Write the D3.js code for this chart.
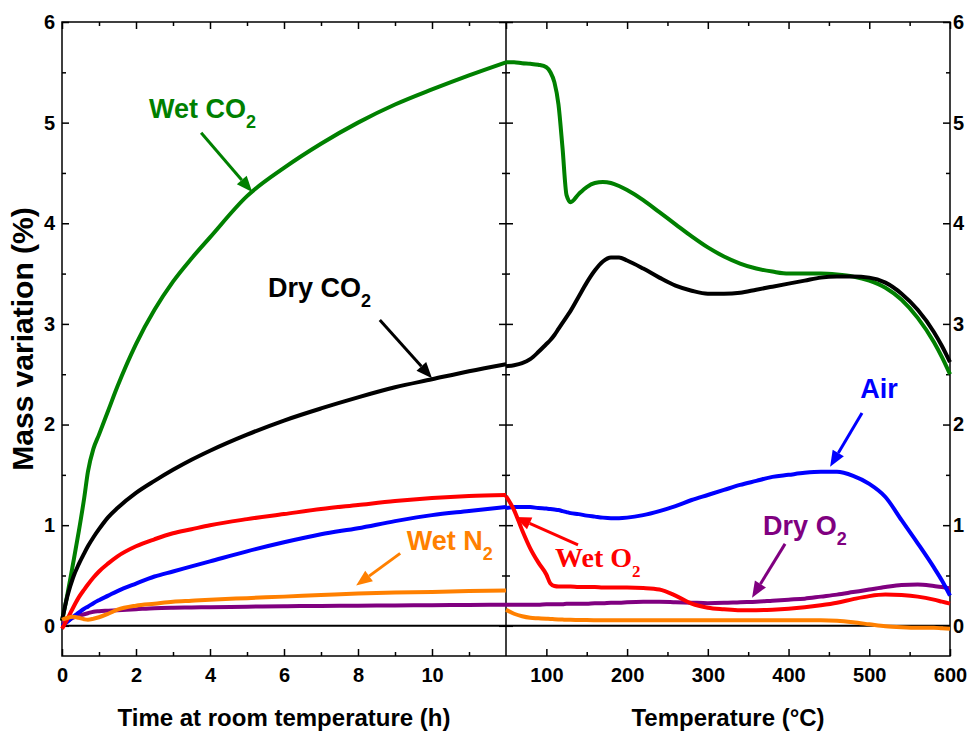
<!DOCTYPE html>
<html>
<head>
<meta charset="utf-8">
<script src="https://cdn.jsdelivr.net/npm/d3@7"></script>
<style>
body { margin: 0; background: #fff; }
text { font-family: "Liberation Sans", Arial, sans-serif; font-weight: bold; }
</style>
</head>
<body>
<svg id="chart" width="970" height="731"></svg>
<script>
// Left panel: isothermal exposure at room temperature (hours).
var timeH = [0, 0.15, 0.3, 0.45, 0.6, 0.7, 0.85, 1, 1.25, 1.5, 2, 2.5, 3, 3.5, 4, 5, 6, 7, 8, 9, 10, 11, 12];
var wetCO2Time = [0.05, 0.32, 0.62, 0.93, 1.27, 1.53, 1.76, 1.9, 2.14, 2.38, 2.8, 3.14, 3.42, 3.65, 3.86, 4.27, 4.55, 4.79, 5.0, 5.18, 5.33, 5.47, 5.6];
var dryCO2Time = [0.05, 0.3, 0.48, 0.61, 0.72, 0.79, 0.88, 0.96, 1.08, 1.17, 1.32, 1.44, 1.55, 1.65, 1.74, 1.9, 2.04, 2.16, 2.27, 2.37, 2.45, 2.53, 2.6];
var wetO2Time = [-0.03, 0.07, 0.18, 0.28, 0.36, 0.41, 0.48, 0.54, 0.62, 0.69, 0.79, 0.86, 0.92, 0.96, 1.0, 1.06, 1.11, 1.16, 1.2, 1.24, 1.27, 1.29, 1.3];
var airTime = [0, 0.04, 0.09, 0.13, 0.17, 0.19, 0.225, 0.255, 0.3, 0.345, 0.42, 0.49, 0.54, 0.59, 0.64, 0.74, 0.83, 0.91, 0.97, 1.04, 1.1, 1.14, 1.18];
var wetN2Time = [0.06, 0.08, 0.09, 0.08, 0.065, 0.06, 0.07, 0.085, 0.12, 0.16, 0.2, 0.22, 0.24, 0.25, 0.26, 0.275, 0.29, 0.305, 0.32, 0.33, 0.335, 0.345, 0.35];
var dryO2Time = [0.03, 0.05, 0.08, 0.1, 0.115, 0.125, 0.14, 0.145, 0.15, 0.155, 0.165, 0.175, 0.18, 0.183, 0.185, 0.19, 0.195, 0.197, 0.2, 0.202, 0.205, 0.207, 0.21];

// Right panel: heating ramp (degrees C).
var tempC = [50, 60, 70, 80, 90, 100, 105, 110, 115, 120, 125, 130, 140, 150, 160, 170, 180, 190, 200, 220,
             240, 260, 280, 300, 320, 340, 360, 380, 400, 420, 440, 460, 480, 500, 520, 540, 560, 580, 590, 600];
var wetCO2Temp = [5.6, 5.6, 5.59, 5.585, 5.575, 5.55, 5.5, 5.4, 5.18, 4.75, 4.28, 4.21, 4.29, 4.36, 4.4, 4.41, 4.4, 4.37, 4.33, 4.23,
                  4.11, 3.99, 3.87, 3.76, 3.67, 3.6, 3.55, 3.52, 3.5, 3.5, 3.5, 3.49, 3.47, 3.43, 3.36, 3.24, 3.06, 2.82, 2.67, 2.5];
var dryCO2Temp = [2.58, 2.59, 2.61, 2.65, 2.72, 2.8, 2.84, 2.89, 2.95, 3.01, 3.07, 3.13, 3.27, 3.41, 3.53, 3.62, 3.66, 3.66, 3.63, 3.55,
                  3.46, 3.38, 3.33, 3.3, 3.3, 3.31, 3.34, 3.37, 3.4, 3.43, 3.46, 3.47, 3.47, 3.46, 3.41, 3.3, 3.14, 2.92, 2.78, 2.62];
var airTemp = [1.17, 1.18, 1.18, 1.18, 1.17, 1.165, 1.16, 1.155, 1.15, 1.14, 1.13, 1.12, 1.11, 1.095, 1.085, 1.075, 1.07, 1.07, 1.075, 1.1,
               1.14, 1.19, 1.25, 1.3, 1.35, 1.4, 1.44, 1.48, 1.5, 1.52, 1.53, 1.53, 1.49, 1.41, 1.28, 1.05, 0.82, 0.58, 0.45, 0.3];
var wetO2Temp = [1.29, 1.15, 0.95, 0.77, 0.63, 0.51, 0.42, 0.395, 0.39, 0.39, 0.39, 0.39, 0.385, 0.385, 0.385, 0.38, 0.38, 0.38, 0.38, 0.375,
                 0.36, 0.3, 0.22, 0.18, 0.165, 0.155, 0.155, 0.16, 0.17, 0.185, 0.205, 0.23, 0.265, 0.295, 0.31, 0.305, 0.29, 0.26, 0.24, 0.22];
var dryO2Temp = [0.21, 0.21, 0.21, 0.21, 0.21, 0.215, 0.215, 0.215, 0.215, 0.215, 0.22, 0.22, 0.22, 0.22, 0.225, 0.225, 0.23, 0.23, 0.235, 0.24,
                 0.24, 0.235, 0.23, 0.225, 0.228, 0.235, 0.24, 0.25, 0.26, 0.27, 0.29, 0.31, 0.335, 0.36, 0.385, 0.405, 0.41, 0.395, 0.385, 0.37];
var wetN2Temp = [0.16, 0.12, 0.095, 0.08, 0.075, 0.07, 0.068, 0.065, 0.063, 0.062, 0.06, 0.06, 0.058, 0.057, 0.056, 0.055, 0.055, 0.055, 0.055, 0.055,
                 0.055, 0.055, 0.055, 0.055, 0.055, 0.055, 0.055, 0.055, 0.055, 0.055, 0.055, 0.05, 0.035, 0.015, -0.005, -0.015, -0.02, -0.02, -0.025, -0.03];

var yTicks = [0, 1, 2, 3, 4, 5, 6];
var yMinor = [0.5, 1.5, 2.5, 3.5, 4.5, 5.5];
var timeTicks = [0, 2, 4, 6, 8, 10];
var timeMinor = [1, 3, 5, 7, 9, 11];
var tempTicks = [100, 200, 300, 400, 500, 600];
var tempMinor = [150, 250, 350, 450, 550];

var series = [
    {color: "#008000", time: wetCO2Time, temp: wetCO2Temp},
    {color: "#000000", time: dryCO2Time, temp: dryCO2Temp},
    {color: "#800080", time: dryO2Time, temp: dryO2Temp},
    {color: "#0000ff", time: airTime, temp: airTemp},
    {color: "#ff0000", time: wetO2Time, temp: wetO2Temp},
    {color: "#ff8000", time: wetN2Time, temp: wetN2Temp}
];

// Labels with arrows, in data units of their panel: text start, arrow tail, arrow tip.
var notes = [
    {panel: "time", text: "Wet CO", sub: "2", color: "#008000", at: [2.35, 5.045], from: [3.76, 4.9], to: [5.14, 4.31]},
    {panel: "time", text: "Dry CO", sub: "2", color: "#000000", at: [5.57, 3.27], from: [8.59, 3.04], to: [10.0, 2.46]},
    {panel: "time", text: "Wet N", sub: "2", color: "#ff8000", at: [9.32, 0.755], from: [9.14, 0.72], to: [7.95, 0.4]},
    {panel: "temp", text: "Air", sub: "", color: "#0000ff", at: [488.7, 2.264], from: [491, 2.115], to: [451.5, 1.58]},
    {panel: "temp", text: "Dry O", sub: "2", color: "#800080", at: [368.5, 0.904], from: [395.7, 0.814], to: [354.8, 0.28]},
    {panel: "temp", text: "Wet O", sub: "2", color: "#ff0000", at: [110.7, 0.586], from: [139.2, 0.804], to: [61.2, 1.082], serif: true}
];

var svg = d3.select("#chart");
var y = d3.scaleLinear().domain([-0.3, 6]).range([656, 22]);
var xTime = d3.scaleLinear().domain([0, 12]).range([62, 506]);
var xTemp = d3.scaleLinear().domain([50, 600]).range([506, 950]);
var scales = {time: xTime, temp: xTemp};

// Draws a pair of major/minor tick sets pointing into the plot.
function ticks(axis, scale, major, minor, transform, labelled, padding) {
    var g = svg.append("g").attr("transform", transform);
    g.append("g").call(axis(scale).tickValues(minor).tickSize(-4).tickFormat(""));
    g.append("g").call(axis(scale).tickValues(major).tickSize(-7).tickPadding(padding)
        .tickFormat(labelled ? d3.format("d") : ""));
    g.selectAll(".domain").remove();
    g.selectAll("line").attr("stroke-width", 1.5);
    g.selectAll("text").attr("font-size", 20).attr("fill", "#000");
}

ticks(d3.axisLeft, y, yTicks, yMinor, "translate(62,0)", true, 7);
ticks(d3.axisRight, y, yTicks, yMinor, "translate(506,0)", false, 3);
ticks(d3.axisLeft, y, yTicks, yMinor, "translate(506,0)", false, 3);
ticks(d3.axisRight, y, yTicks, yMinor, "translate(950,0)", true, 3);
ticks(d3.axisBottom, xTime, timeTicks, timeMinor, "translate(0,656)", true, 12);
ticks(d3.axisTop, xTime, timeTicks.concat([12]), timeMinor, "translate(0,22)", false, 3);
ticks(d3.axisBottom, xTemp, tempTicks, tempMinor, "translate(0,656)", true, 12);
ticks(d3.axisTop, xTemp, tempTicks, tempMinor, "translate(0,22)", false, 3);

// Frame and the zero line.
svg.append("rect").attr("x", 62).attr("y", 22).attr("width", 888).attr("height", 634)
    .attr("fill", "none").attr("stroke", "#000").attr("stroke-width", 1.5);
svg.append("line").attr("x1", 506).attr("x2", 506).attr("y1", 22).attr("y2", 656)
    .attr("stroke", "#000").attr("stroke-width", 1.5);
svg.append("line").attr("x1", 62).attr("x2", 950).attr("y1", y(0)).attr("y2", y(0))
    .attr("stroke", "#000").attr("stroke-width", 2);

var lineTime = d3.line().curve(d3.curveMonotoneX)
    .x(function(d, i) { return xTime(timeH[i]); }).y(function(d) { return y(d); });
var lineTemp = d3.line().curve(d3.curveMonotoneX)
    .x(function(d, i) { return xTemp(tempC[i]); }).y(function(d) { return y(d); });

series.forEach(function(s) {
    svg.append("path").attr("d", lineTime(s.time)).attr("fill", "none")
        .attr("stroke", s.color).attr("stroke-width", 4).attr("stroke-linejoin", "round");
    svg.append("path").attr("d", lineTemp(s.temp)).attr("fill", "none")
        .attr("stroke", s.color).attr("stroke-width", 4).attr("stroke-linejoin", "round");
});

notes.forEach(function(n) {
    var x = scales[n.panel];
    var t = svg.append("text").attr("x", x(n.at[0])).attr("y", y(n.at[1]))
        .attr("fill", n.color).attr("font-size", n.serif ? 28 : 27);
    if(n.serif) t.style("font-family", '"Liberation Serif", "Times New Roman", serif');
    t.append("tspan").text(n.text);
    if(n.sub) t.append("tspan").attr("dy", 10).attr("font-size", n.serif ? 17 : 18).text(n.sub);

    var x1 = x(n.from[0]), y1 = y(n.from[1]), x2 = x(n.to[0]), y2 = y(n.to[1]);
    var a = Math.atan2(y2 - y1, x2 - x1), len = 16, half = 6.5;
    var bx = x2 - len * Math.cos(a), by = y2 - len * Math.sin(a);
    svg.append("line").attr("x1", x1).attr("y1", y1).attr("x2", bx).attr("y2", by)
        .attr("stroke", n.color).attr("stroke-width", 3);
    svg.append("path").attr("fill", n.color)
        .attr("d", "M" + x2 + "," + y2 +
            "L" + (bx + half * Math.sin(a)) + "," + (by - half * Math.cos(a)) +
            "L" + (bx - half * Math.sin(a)) + "," + (by + half * Math.cos(a)) + "Z");
});

// Axis titles.
svg.append("text").attr("transform", "translate(33,339) rotate(-90)")
    .attr("text-anchor", "middle").attr("font-size", 30).text("Mass variation (%)");
svg.append("text").attr("x", xTime(6)).attr("y", 726)
    .attr("text-anchor", "middle").attr("font-size", 24).text("Time at room temperature (h)");
svg.append("text").attr("x", xTemp(325)).attr("y", 726)
    .attr("text-anchor", "middle").attr("font-size", 24).text("Temperature (°C)");
</script>
</body>
</html>
